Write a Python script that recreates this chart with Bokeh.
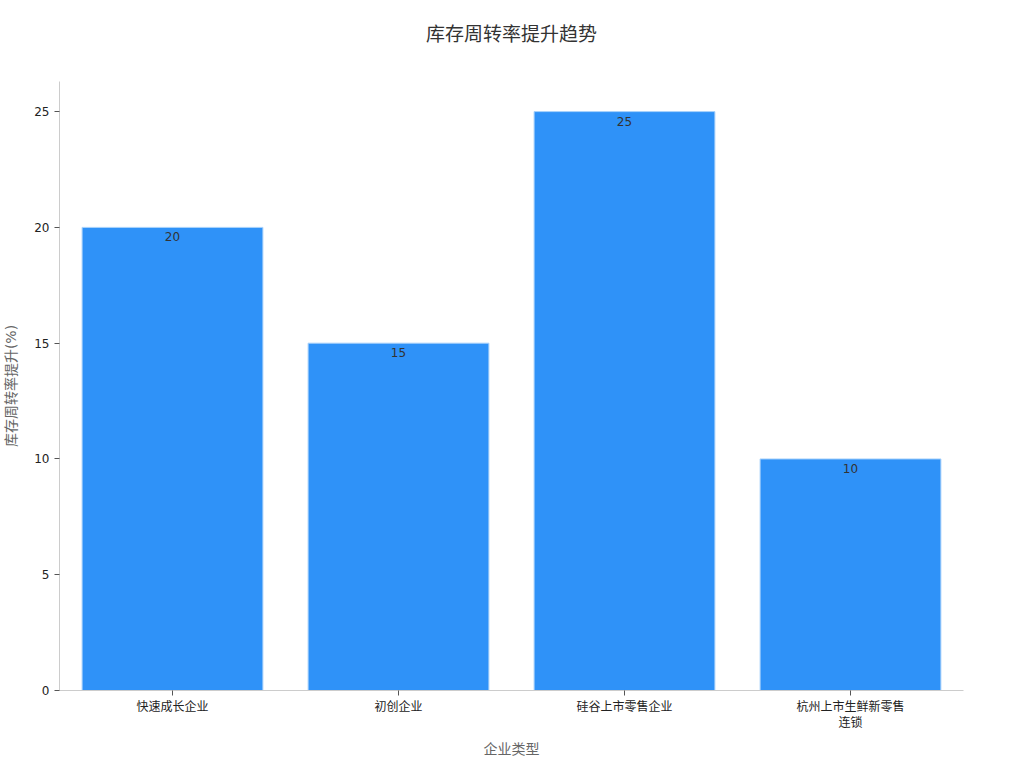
from bokeh.plotting import figure
from bokeh.models import ColumnDataSource, Range1d, LabelSet
from bokeh.core.properties import value
from bokeh.embed import file_html
from bokeh.resources import INLINE

categories = ["快速成长企业", "初创企业", "硅谷上市零售企业", "杭州上市生鲜新零售\n连锁"]
values = [20, 15, 25, 10]
labels = [str(v) for v in values]
title_text = "库存周转率提升趋势"

FONT = "DejaVu Sans, Noto Sans CJK SC"

src = ColumnDataSource(dict(cat=categories, val=values, lab=labels))

p = figure(x_range=categories, y_range=Range1d(0, 26.3), width=1008, height=760,
           output_backend="svg", toolbar_location=None,
           min_border_left=54, min_border_right=45, min_border_top=81, min_border_bottom=63)

p.vbar(x="cat", top="val", width=0.8, source=src, fill_color="#2f92f8",
       line_color="#a9d2fb", line_width=1)

p.add_layout(LabelSet(x="cat", y="val", text="lab", source=src, y_offset=-5,
                      text_align="center", text_baseline="top", text_font_size="12px",
                      text_color="#333333", text_font=value(FONT)))

p.title.text = title_text + "\n"
p.title.align = "center"
p.title.text_font_size = "19px"
p.title.text_font_style = "normal"
p.title.text_color = "#333333"
p.title.text_font = FONT
p.title.offset = 0
p.title.standoff = 29

p.xgrid.grid_line_color = None
p.ygrid.grid_line_color = None
p.outline_line_color = None

for ax in (p.xaxis, p.yaxis):
    ax.axis_line_color = "#cccccc"
    ax.major_tick_line_color = "#555555"
    ax.minor_tick_line_color = None
    ax.major_label_text_font = FONT
    ax.major_label_text_font_size = "12px"
    ax.major_label_text_color = "#222222"
    ax.axis_label_text_font = FONT
    ax.axis_label_text_font_size = "14px"
    ax.axis_label_text_font_style = "normal"
    ax.axis_label_text_color = "#666666"
    ax.major_tick_out = 5
    ax.major_tick_in = 0

p.xaxis.axis_label = "企业类型"
p.yaxis.axis_label = "库存周转率提升(%)"
p.yaxis.ticker = [0, 5, 10, 15, 20, 25]
p.xaxis.major_label_standoff = 4
p.xaxis.axis_label_standoff = 8
p.yaxis.axis_label_standoff = 12
p.x_range.range_padding = 0.0

open("out.html", "w").write(file_html(p, INLINE))
